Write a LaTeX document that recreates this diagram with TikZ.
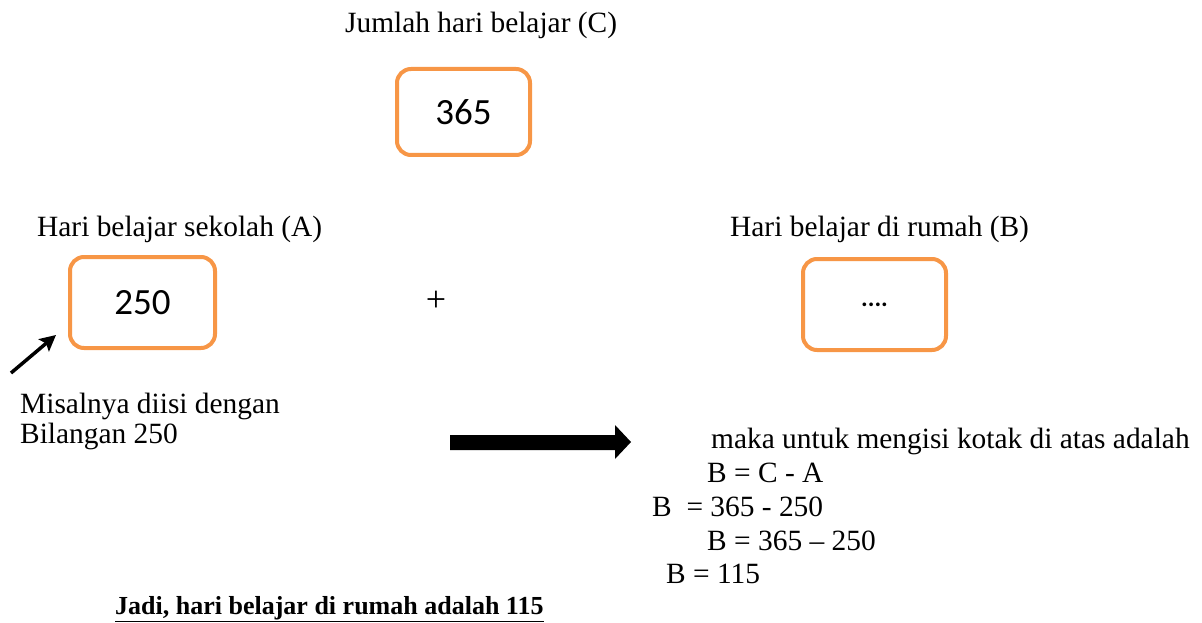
\documentclass[tikz,border=0pt]{standalone}
\usepackage{fontspec}
\setmainfont{Liberation Serif}
\newfontfamily\boxfont{Carlito}
\usetikzlibrary{arrows.meta}
\definecolor{boxorange}{HTML}{F79646}
\tikzset{
  numbox/.style={draw=boxorange, line width=4pt, rounded corners=14pt, fill=white,
    inner sep=0pt, font=\boxfont\fontsize{37}{42}\selectfont},
  lbl/.style={anchor=base west, inner sep=0pt, font=\fontsize{29.4}{34}\selectfont},
}
\begin{document}
\begin{tikzpicture}[x=1pt,y=-1pt]
\useasboundingbox (0,0) rectangle (1202,623);
% titles
\node[lbl] (tc) at (345,33) {Jumlah hari belajar (C)};
\node[lbl] (ta) at (37,236) {Hari belajar sekolah (A)};
\node[lbl] (tb) at (730,236) {Hari belajar di rumah (B)};
% boxes
\node[numbox, minimum width=133pt, minimum height=86pt] (c) at (463.5,112) {365};
\node[numbox, minimum width=145pt, minimum height=91pt] (a) at (142.5,302.5) {250};
\node[numbox, minimum width=143pt, minimum height=91pt] (b) at (874.5,304.5) {\fontsize{25}{28}\selectfont\bfseries....};
\node[lbl, anchor=center, font=\fontsize{36}{40}\selectfont] (plus) at (436,301) {+};
% small arrow
\coordinate (s0) at (11,373);
\coordinate (s1) at (56,335);
\draw[line width=3.5pt, -{Stealth[length=16pt,width=16pt,inset=3pt]}] (s0) -- (s1);
% notes
\node[lbl] (m1) at (20,413) {Misalnya diisi dengan};
\node[lbl] (m2) at (20,443) {Bilangan 250};
% big arrow
\fill (450,435) -- (615,435) -- (615,425) -- (631,442) -- (615,459) -- (615,450) -- (450,450) -- cycle;
% right text
\node[lbl] (r0) at (711,448) {maka untuk mengisi kotak di atas adalah};
\node[lbl] (r1) at (707,482) {B = C - A};
\node[lbl] (r2) at (652,516) {B \ = 365 - 250};
\node[lbl] (r3) at (707,550) {B = 365 -- 250};
\node[lbl] (r4) at (666,583) {B = 115};
\node[lbl, font=\fontsize{26}{30}\selectfont\bfseries] (j) at (115,614) {\underline{Jadi, hari belajar di rumah adalah 115}};
\end{tikzpicture}
\end{document}
